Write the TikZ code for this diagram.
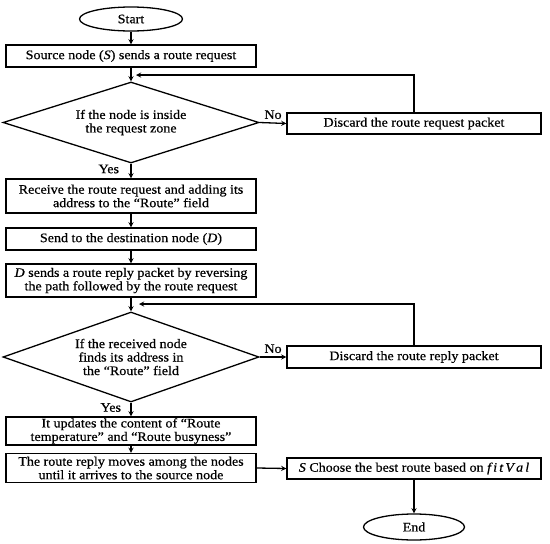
\documentclass[tikz,border=0pt]{standalone}
\usepackage{fontspec}
\setmainfont{Liberation Serif}[FakeStretch=1.08, FakeBold=0.6]
\usetikzlibrary{shapes.geometric}

\tikzset{
  txt/.style={font=\fontsize{13}{13.5}\selectfont},
  proc/.style={txt, draw, line width=1.3pt, minimum width=250pt, minimum height=22pt,
    inner sep=1pt, align=center},
  wide/.style={proc, minimum width=254pt},
  decide/.style={txt, draw, diamond, line width=1.3pt, minimum width=256pt,
    inner sep=0pt, align=center},
  term/.style={txt, draw, ellipse, line width=1.3pt, minimum width=103pt,
    minimum height=24pt, inner sep=0pt},
  flow/.style={->, line width=1.3pt}
}

\begin{document}
\begin{tikzpicture}[>=stealth, x=1pt, y=-1pt]
  \useasboundingbox (0,0) rectangle (550,544);

  % Left column
  \node[term] (start) at (131,19) {Start};
  \node[proc] (src) at (131,56) {Source node (\textit{S}) sends a route request};
  \node[decide, aspect=3.16, minimum height=81pt] (inzone) at (131,122.5)
    {If the node is inside\\the request zone};
  \node[proc, minimum height=34pt] (recv) at (131,196)
    {Receive the route request and adding its\\address to the ``Route'' field};
  \node[proc] (senddst) at (131,239) {Send to the destination node (\textit{D})};
  \node[proc, minimum height=33pt] (reply) at (131,280.5)
    {\textit{D} sends a route reply packet by reversing\\the path followed by the route request};
  \node[decide, aspect=2.84, minimum height=90pt] (found) at (131,357)
    {If the received node\\finds its address in\\the ``Route'' field};
  \node[proc, minimum height=28pt] (update) at (131,431)
    {It updates the content of ``Route\\temperature'' and ``Route busyness''};
  \node[proc, minimum height=29pt] (moves) at (131,468)
    {The route reply moves among the nodes\\until it arrives to the source node};

  % Right column
  \node[wide, minimum height=21pt] (discreq) at (414,123.5) {Discard the route request packet};
  \node[wide] (discrep) at (414,357) {Discard the route reply packet};
  \node[wide, minimum height=21pt] (choose) at (414,468.5)
    {\textit{S} Choose the best route based on \textit{f\,i\,t\,V\,a\,l}};
  \node[term, minimum width=101pt, minimum height=26pt] (stop) at (414,527) {End};

  % Loop back points
  \coordinate (backreq) at (136,75);
  \coordinate (backrep) at (139,304);

  % Connectors
  \draw[flow] (start) -- (src);
  \draw[flow] (src) -- (inzone);
  \draw[flow] (inzone.east) -- node[txt, above] {No} (discreq.west);
  \draw[flow] (discreq.north) |- (backreq);
  \draw[flow] (inzone.south) -- node[txt, left, xshift=-8pt, yshift=2pt] {Yes} (recv);
  \draw[flow] (recv) -- (senddst);
  \draw[flow] (senddst) -- (reply);
  \draw[flow] (reply) -- (found);
  \draw[flow] (found.east) -- node[txt, above] {No} (discrep.west);
  \draw[flow] (discrep.north) |- (backrep);
  \draw[flow] (found.south) -- node[txt, left, xshift=-6pt, yshift=2pt] {Yes} (update);
  \draw[flow] (update) -- (moves);
  \draw[flow] (moves.east) -- (choose.west);
  \draw[flow] (choose) -- (stop);
\end{tikzpicture}
\end{document}
